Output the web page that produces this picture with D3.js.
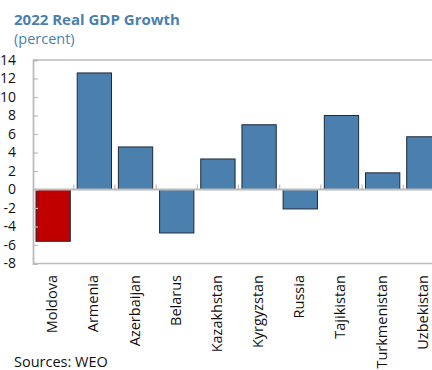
<!DOCTYPE html>
<html>
<head>
<meta charset="utf-8">
<script src="https://cdn.jsdelivr.net/npm/d3@7/dist/d3.min.js"></script>
<style>
  html, body { margin: 0; padding: 0; background: #fff; overflow: hidden; }
  svg { display: block; font-family: "Open Sans", "Noto Sans", sans-serif; }
</style>
</head>
<body>
<svg id="chart" width="432" height="370"></svg>
<script>
// 2022 real GDP growth by country, percent
const countries = ["Moldova", "Armenia", "Azerbaijan", "Belarus", "Kazakhstan",
                   "Kyrgyzstan", "Russia", "Tajikistan", "Turkmenistan", "Uzbekistan"];
const growth = [-5.6, 12.6, 4.6, -4.7, 3.3, 7.0, -2.1, 8.0, 1.8, 5.7];
const yTicks = [14, 12, 10, 8, 6, 4, 2, 0, -2, -4, -6, -8];

const svg = d3.select("#chart");
const plotL = 33, plotR = 444, plotT = 60, plotB = 263.5;

const x = d3.scaleBand().domain(countries).range([plotL, plotR])
  .paddingInner(0.167).paddingOuter(0.073);
const y = d3.scaleLinear().domain([-8, 14]).range([plotB, plotT]);

const gridGrey = "#bcbcbc";

// frame: top and bottom lines
svg.append("line").attr("x1", plotL).attr("x2", 432).attr("y1", plotT).attr("y2", plotT)
  .attr("stroke", gridGrey).attr("stroke-width", 1.5);
svg.append("line").attr("x1", plotL).attr("x2", 432).attr("y1", plotB).attr("y2", plotB)
  .attr("stroke", gridGrey).attr("stroke-width", 1.5);

// bars
svg.append("g").selectAll("rect").data(countries).join("rect")
  .attr("x", d => x(d))
  .attr("width", x.bandwidth())
  .attr("y", (d, i) => y(Math.max(0, growth[i])))
  .attr("height", (d, i) => Math.abs(y(growth[i]) - y(0)))
  .attr("fill", d => d === "Moldova" ? "#c00000" : "#4a7fae")
  .attr("stroke", "#1e2a36")
  .attr("stroke-width", 1);

// zero line with category separators
svg.append("line").attr("x1", plotL).attr("x2", 432).attr("y1", y(0)).attr("y2", y(0))
  .attr("stroke", gridGrey).attr("stroke-width", 1.8);
const step = x.step();
svg.append("g").selectAll("line").data(countries.slice(1)).join("line")
  .attr("x1", d => x(d) - x.paddingInner() * step / 2)
  .attr("x2", d => x(d) - x.paddingInner() * step / 2)
  .attr("y1", y(0)).attr("y2", y(0) - 5)
  .attr("stroke", gridGrey).attr("stroke-width", 1.2);

// left axis
const yAxis = svg.append("g").attr("transform", `translate(${plotL},0)`)
  .call(d3.axisLeft(y).tickValues(yTicks).tickSize(-5).tickPadding(17).tickFormat(d => String(d)));
yAxis.select(".domain").attr("stroke", gridGrey).attr("stroke-width", 1.8);
yAxis.selectAll(".tick line").attr("stroke", gridGrey).attr("stroke-width", 1.2);
yAxis.selectAll(".tick text").attr("fill", "#111").style("font-size", "14px")
  .style("font-family", "'Open Sans', sans-serif");

// category labels, rotated
svg.append("g").selectAll("text").data(countries).join("text")
  .attr("transform", d => `translate(${x(d) + x.bandwidth() / 2 + 4},275) rotate(-90)`)
  .attr("text-anchor", "end")
  .attr("fill", "#111")
  .style("font-size", "14.5px")
  .text(d => d);

// titles
svg.append("text").attr("x", 14).attr("y", 24.5)
  .attr("fill", "#4a7fae").style("font-size", "15px").style("font-weight", "bold")
  .text("2022 Real GDP Growth");
svg.append("text").attr("x", 14).attr("y", 43.5)
  .attr("fill", "#4a7fae").style("font-size", "14.5px")
  .text("(percent)");

// source note
svg.append("text").attr("x", 14).attr("y", 366.5)
  .attr("fill", "#111").style("font-size", "14.5px")
  .text("Sources: WEO");
</script>
</body>
</html>
